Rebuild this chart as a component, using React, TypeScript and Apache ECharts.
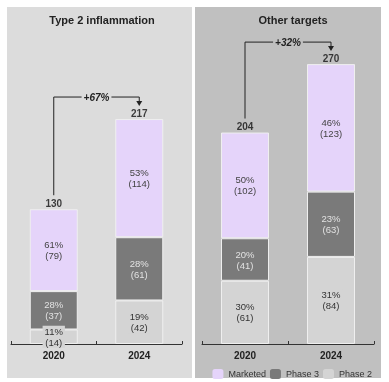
import React, { useEffect, useRef } from 'react';
import * as echarts from 'echarts';

const years = ['2020', '2024'];
const panelTitles = ['Type 2 inflammation', 'Other targets'];
const legendNames = ['Marketed', 'Phase 3', 'Phase 2'];
const type2Phase2 = [14, 42];
const type2Phase3 = [37, 61];
const type2Marketed = [79, 114];
const type2Totals = [130, 217];
const otherPhase2 = [61, 84];
const otherPhase3 = [41, 63];
const otherMarketed = [102, 123];
const otherTotals = [204, 270];

const FONT = '"Liberation Sans", Arial, sans-serif';
const COL_MARKETED = '#e5d4fa';
const COL_P3 = '#7a7a7a';
const COL_P2 = '#d4d4d4';
const BG_LEFT = '#dcdcdc';
const BG_RIGHT = '#c0c0c0';

export default function App() {
  const ref = useRef<HTMLDivElement>(null);
  useEffect(() => {
    if (!ref.current) return;
    const chart = echarts.init(ref.current, undefined, { renderer: 'svg' });
    const panels = [
      { p2: type2Phase2, p3: type2Phase3, mk: type2Marketed, tot: type2Totals },
      { p2: otherPhase2, p3: otherPhase3, mk: otherMarketed, tot: otherTotals },
    ];
    const series: any[] = [];
    panels.forEach((pn, i) => {
      const fmt = (p: any) => `${Math.round((p.value / pn.tot[p.dataIndex]) * 100)}%\n(${p.value})`;
      const common = {
        type: 'bar',
        stack: 'S' + i,
        xAxisIndex: i,
        yAxisIndex: i,
        barWidth: 48,
      };
      series.push({
        ...common,
        name: 'Phase 2',
        data: pn.p2,
        itemStyle: { color: COL_P2, borderColor: '#efefef', borderWidth: 1 },
        label: {
          show: true, position: 'inside', formatter: fmt, color: '#333', fontSize: 9.5,
          lineHeight: 11, fontFamily: FONT, backgroundColor: COL_P2, padding: [0, 2],
        },
      });
      series.push({
        ...common,
        name: 'Phase 3',
        data: pn.p3,
        itemStyle: { color: COL_P3, borderColor: '#efefef', borderWidth: 1 },
        label: {
          show: true, position: 'inside', formatter: fmt, color: '#e2e2e2', fontSize: 9.5,
          lineHeight: 11, fontFamily: FONT,
        },
      });
      series.push({
        ...common,
        name: 'Marketed',
        data: pn.mk,
        itemStyle: { color: COL_MARKETED, borderColor: '#efefef', borderWidth: 1 },
        label: {
          show: true, position: 'inside', formatter: fmt, color: '#444', fontSize: 9.5,
          lineHeight: 11, fontFamily: FONT,
        },
      });
      series.push({
        type: 'scatter',
        name: 'total' + i,
        xAxisIndex: i,
        yAxisIndex: i,
        symbolSize: 0,
        data: pn.tot,
        label: {
          show: true, position: 'top', distance: 1, color: '#111', fontSize: 10,
          fontWeight: 'bold', fontFamily: FONT, formatter: (p: any) => String(p.value),
        },
      });
    });

    const grids = [
      { left: 11, width: 171, top: 33, bottom: 38 },
      { left: 202, width: 172, top: 33, bottom: 38 },
    ];
    const xAxis = grids.map((_, i) => ({
      type: 'category',
      gridIndex: i,
      data: years,
      axisLine: { lineStyle: { color: '#333', width: 1 } },
      axisTick: { show: true, inside: true, length: 3, lineStyle: { color: '#333' } },
      axisLabel: { color: '#222', fontWeight: 'bold', fontSize: 10, fontFamily: FONT, margin: 6 },
    }));
    const yAxis = grids.map((_, i) => ({
      type: 'value', gridIndex: i, min: 0, max: 300, show: false,
    }));

    const panelGraphics = [
      { type: 'rect', z: -10, shape: { x: 7, y: 7, width: 185, height: 371 }, style: { fill: BG_LEFT } },
      { type: 'rect', z: -10, shape: { x: 195, y: 7, width: 186, height: 371 }, style: { fill: BG_RIGHT } },
    ];

    chart.setOption({
      animation: false,
      textStyle: { fontFamily: FONT },
      title: [
        { text: panelTitles[0], left: 97, top: 9, textAlign: 'center', textStyle: { fontSize: 11, fontWeight: 'bold', color: '#222', fontFamily: FONT } },
        { text: panelTitles[1], left: 288, top: 9, textAlign: 'center', textStyle: { fontSize: 11, fontWeight: 'bold', color: '#222', fontFamily: FONT } },
      ],
      legend: {
        data: legendNames,
        right: 17,
        top: 369,
        padding: 0,
        itemWidth: 11,
        itemHeight: 10,
        itemGap: 4,
        itemStyle: { borderWidth: 0 },
        textStyle: { fontSize: 9, color: '#333', fontFamily: FONT },
      },
      grid: grids,
      xAxis,
      yAxis,
      series,
      graphic: panelGraphics,
    });

    const arrowGraphics: any[] = [];
    panels.forEach((pn, i) => {
      const bg = i === 0 ? BG_LEFT : BG_RIGHT;
      const a = chart.convertToPixel({ xAxisIndex: i, yAxisIndex: i } as any, [years[0], pn.tot[0]]) as number[];
      const b = chart.convertToPixel({ xAxisIndex: i, yAxisIndex: i } as any, [years[1], pn.tot[1]]) as number[];
      const yLine = Math.min(a[1], b[1]) - 22;
      const tipY = b[1] - 13;
      const growth = Math.round((pn.tot[1] / pn.tot[0] - 1) * 100);
      arrowGraphics.push({
        type: 'polyline', z: 100,
        shape: { points: [[a[0], a[1] - 14], [a[0], yLine], [b[0], yLine], [b[0], tipY - 4]] },
        style: { stroke: '#222', lineWidth: 1, fill: null },
      });
      arrowGraphics.push({
        type: 'polygon', z: 100,
        shape: { points: [[b[0] - 3, tipY - 5], [b[0] + 3, tipY - 5], [b[0], tipY]] },
        style: { fill: '#222' },
      });
      arrowGraphics.push({
        type: 'text', z: 101,
        x: (a[0] + b[0]) / 2, y: yLine,
        style: {
          text: `+${growth}%`, align: 'center', verticalAlign: 'middle', fontSize: 10,
          fontWeight: 'bold', fontStyle: 'italic', fill: '#222', fontFamily: FONT,
          backgroundColor: bg, padding: [0, 2],
        },
      });
    });
    chart.setOption({ graphic: [...panelGraphics, ...arrowGraphics] });

    return () => chart.dispose();
  }, []);
  return <div ref={ref} style={{ position: 'fixed', left: 0, top: 0, width: 389, height: 382 }} />;
}
